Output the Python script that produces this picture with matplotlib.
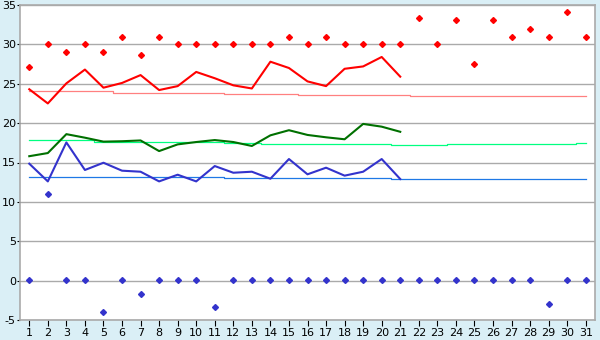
import numpy as np
import matplotlib
matplotlib.use('Agg')
import matplotlib.pyplot as plt

days = np.arange(1, 32)

# daily series (days 1-21)
red_line = [24.3, 22.5, 25.05, 26.8, 24.5, 25.1, 26.1, 24.2, 24.7, 26.5,
            25.7, 24.8, 24.4, 27.8, 27.0, 25.3, 24.7, 26.9, 27.2, 28.4, 25.9]
green_line = [15.8, 16.2, 18.6, 18.15, 17.65, 17.7, 17.8, 16.45, 17.3, 17.6,
              17.85, 17.6, 17.1, 18.45, 19.1, 18.5, 18.2, 17.95, 19.9, 19.55, 18.9]
blue_line = [14.85, 12.6, 17.55, 14.05, 14.97, 13.96, 13.83, 12.6, 13.45, 12.6,
             14.55, 13.7, 13.83, 12.94, 15.44, 13.5, 14.34, 13.33, 13.83, 15.44, 12.9]

# extremes (all days)
red_pts = [27.1, 30, 29, 30, 29, 31, 28.6, 31, 30, 30,
           30, 30, 30, 30, 31, 30, 31, 30, 30, 30, 30,
           33.3, 30, 33.05, 27.5, 33.05, 31, 32.0, 31, 34.07, 31]
blue_pts = [0.1, 11.0, 0.1, 0.1, -4.0, 0.1, -1.7, 0.1, 0.1, 0.1,
            -3.35, 0.1, 0.1, 0.1, 0.1, 0.1, 0.1, 0.1, 0.1, 0.1, 0.1,
            0.1, 0.1, 0.1, 0.1, 0.1, 0.1, 0.1, -3.0, 0.1, 0.1]

# normals (all days)
red_norm = [24.04] * 5 + [23.78] * 6 + [23.65] * 4 + [23.53] * 6 + [23.4] * 10
green_norm = [17.8] * 4 + [17.56] * 7 + [17.43] * 2 + [17.3] * 7 + [17.18] * 3 + [17.3] * 7 + [17.43]
blue_norm = [13.2] * 3 + [13.12] * 8 + [12.99] * 9 + [12.86] * 11

plt.rcParams['axes.unicode_minus'] = False
fig = plt.figure(figsize=(6, 3.4), dpi=100, facecolor='#DAEFF6')
ax = fig.add_axes([20 / 600, 20 / 340, 575 / 600, 315 / 340])
ax.set_facecolor('white')

ax.step(days, red_norm, where='mid', color='#FF8080', lw=0.9)
ax.step(days, green_norm, where='mid', color='#00FF80', lw=0.9)
ax.step(days, blue_norm, where='mid', color='#1E78E6', lw=0.9)

n = len(red_line)
ax.plot(days[:n], red_line, color='#FF0000', lw=1.5)
ax.plot(days[:n], green_line, color='#007000', lw=1.5)
ax.plot(days[:n], blue_line, color='#3333CC', lw=1.5)

ax.plot(days, red_pts, ls='none', marker='D', ms=3, color='#FF0000')
ax.plot(days, blue_pts, ls='none', marker='D', ms=3, color='#3333CC')

ax.set_xlim(0.5, 31.5)
ax.set_ylim(-5, 35)
ax.set_xticks(days)
ax.set_yticks(np.arange(-5, 36, 5))
ax.grid(axis='y', color='#AAAAAA', lw=1)
ax.set_axisbelow(True)
for s in ax.spines.values():
    s.set_color('#AAAAAA')
    s.set_linewidth(1.2)
ax.tick_params(axis='x', labelsize=8, length=4, width=0.8, color='black', pad=2)
ax.tick_params(axis='y', labelsize=8, length=2.5, width=0.8, color='black', pad=0.5)

fig.savefig('out.png', dpi=100, facecolor=fig.get_facecolor())
